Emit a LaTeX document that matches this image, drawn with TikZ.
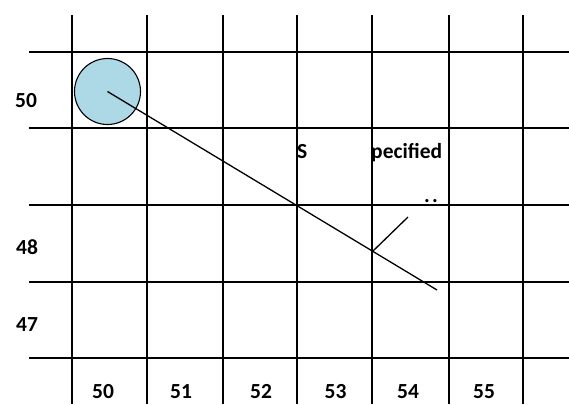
\documentclass[tikz,border=0pt]{standalone}
\usepackage{fontspec}
\setmainfont{Carlito}
\begin{document}
\begin{tikzpicture}[x=1bp,y=-1bp,
  gridline/.style={line width=1.6bp,black},
  lbl/.style={font=\fontsize{21.5bp}{25bp}\selectfont\bfseries,inner sep=0pt},
  ball/.style={circle,draw=black,line width=1.1bp,fill={rgb,255:red,173;green,216;blue,230},minimum size=66bp,inner sep=0pt},
  track/.style={line width=1.3bp,black}]
\useasboundingbox (0,0) rectangle (569,404);
% grid
\foreach \x in {72,147,223,297,372,449,523}
  \draw[gridline] (\x,15) -- (\x,404);
\foreach \y in {52,128,205,282,358}
  \draw[gridline] (29,\y) -- (569,\y);
% circle
\node[ball] (ball) at (107.5,91.5) {};
\coordinate (c) at (107.5,91.5);
\coordinate (e) at (437,290);
\coordinate (p) at (373,251);
\coordinate (q) at (408,217);
\draw[track] (c) -- (e);
\draw[track] (p) -- (q);
% texts
\node[lbl,anchor=base west] (s) at (297,158) {S};
\node[lbl,anchor=base west] (spec) at (371,158) {pecified};
\node[lbl,anchor=base west] (dots) at (424,202) {.\kern2.2bp.};
% left labels
\node[lbl] (l50) at (26,101) {50};
\node[lbl] (l48) at (27,247) {48};
\node[lbl] (l47) at (27,325) {47};
% bottom labels
\node[lbl] (b50) at (103,391.5) {50};
\node[lbl] (b51) at (181,392) {51};
\node[lbl] (b52) at (261,391.5) {52};
\node[lbl] (b53) at (335.5,392) {53};
\node[lbl] (b54) at (408,391.5) {54};
\node[lbl] (b55) at (484,391.5) {55};
\end{tikzpicture}
\end{document}
